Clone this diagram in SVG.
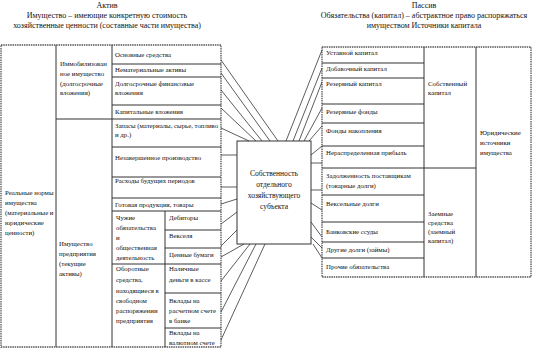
<svg xmlns="http://www.w3.org/2000/svg" width="533" height="354" viewBox="0 0 533 354">
<style>
text{font-family:"Liberation Serif","Times New Roman",serif;font-size:6.8px;fill:#111}
.h{font-size:8px;text-anchor:middle}
.c{font-size:7.5px;text-anchor:middle}
.ln{stroke:#333;stroke-width:1;fill:none}
.ob{stroke:#555;stroke-width:1.3;fill:none;stroke-dasharray:1.5 0.8}
.cn{stroke:#333;stroke-width:0.8;fill:none}
</style>
<rect width="533" height="354" fill="#fff"/>
<g id="header">
<text class="h" x="107" y="8">Актив</text>
<text class="h" x="107" y="18">Имущество – имеющие конкретную стоимость</text>
<text class="h" x="107" y="28">хозяйственные ценности (составные части имущества)</text>
<text class="h" x="424" y="8">Пассив</text>
<text class="h" x="424" y="18">Обязательства (капитал) – абстрактное право распоряжаться</text>
<text class="h" x="424" y="28">имуществом Источники капитала</text>
</g>
<g id="left-table">
<rect class="ob" x="1" y="45" width="220" height="302"/>
<path class="ln" d="M56 45V347M112 45V347M56 119H221M112 64H221M112 77H221M112 105H221M112 147H221M112 177H221M112 198H221M112 211H221M165 211V347M165 230H221M165 248H221M112 264H221M165 293H221M165 328H221"/>
</g>
<g id="n-real"><text x="5" y="195">Реальные нормы</text><text x="5" y="205">имущества</text><text x="5" y="215">(материальные и</text><text x="5" y="225">юридические</text><text x="5" y="235">ценности)</text></g>
<g id="n-immob"><text x="60" y="66">Иммобилизован</text><text x="60" y="76">ное имущество</text><text x="60" y="86">(долгосрочные</text><text x="60" y="95">вложения)</text></g>
<g id="n-tek"><text x="59" y="246">Имущество</text><text x="59" y="256">предприятия</text><text x="59" y="266">(текущие</text><text x="59" y="276">активы)</text></g>
<g id="n-os"><text x="115" y="56.5">Основные средства</text></g>
<g id="n-nma"><text x="115" y="71.5">Нематериальные активы</text></g>
<g id="n-dfv"><text x="115" y="85.5">Долгосрочные финансовые</text><text x="115" y="95">вложения</text></g>
<g id="n-kv"><text x="115" y="114">Капитальные вложения</text></g>
<g id="n-zap"><text x="115" y="128">Запасы (материалы, сырье, топливо</text><text x="115" y="137">и др.)</text></g>
<g id="n-nzp"><text x="115" y="160">Незавершенное производство</text></g>
<g id="n-rbp"><text x="115" y="183">Расходы будущих периодов</text></g>
<g id="n-gp"><text x="115" y="206.5">Готовая продукция, товары</text></g>
<g id="n-chuzh"><text x="116" y="220">Чужие</text><text x="116" y="230">обязательства</text><text x="116" y="240">и</text><text x="116" y="250">общественная</text><text x="116" y="259.5">деятельность</text></g>
<g id="n-deb"><text x="169" y="220">Дебиторы</text></g>
<g id="n-veks"><text x="169" y="238">Векселя</text></g>
<g id="n-cb"><text x="169" y="257">Ценные бумаги</text></g>
<g id="n-obor"><text x="116" y="271">Оборотные</text><text x="116" y="282">средства,</text><text x="116" y="293">находящиеся в</text><text x="116" y="303">свободном</text><text x="116" y="313">распоряжении</text><text x="116" y="323">предприятия</text></g>
<g id="n-nal"><text x="169" y="271">Наличные</text><text x="169" y="282">деньги в кассе</text></g>
<g id="n-vrs"><text x="169" y="303">Вклады на</text><text x="169" y="313">расчетном счете</text><text x="169" y="323">в банке</text></g>
<g id="n-vvs"><text x="169" y="335">Вклады на</text><text x="169" y="345">валютном счете</text></g>
<g id="center">
<rect class="ln" x="237" y="141" width="74" height="103"/>
<text class="c" x="274" y="176">Собственность</text>
<text class="c" x="274" y="187">отдельного</text>
<text class="c" x="274" y="198">хозяйствующего</text>
<text class="c" x="274" y="209">субъекта</text>
</g>
<g id="right-table">
<rect class="ob" x="322" y="47" width="209" height="230"/>
<path class="ln" d="M424 47V277M476 47V277M322 63H424M322 78H424M322 104H424M322 123H424M322 146H424M322 168H476M322 195H424M322 222H424M322 242H424M322 258H424"/>
</g>
<g id="n-ust"><text x="326" y="54.5">Уставной капитал</text></g>
<g id="n-dob"><text x="326" y="71">Добавочный капитал</text></g>
<g id="n-rk"><text x="326" y="85.5">Резервный капитал</text></g>
<g id="n-rf"><text x="326" y="113.5">Резервные фонды</text></g>
<g id="n-fn"><text x="326" y="132.5">Фонды накопления</text></g>
<g id="n-np"><text x="326" y="154.5">Нераспределенная  прибыль</text></g>
<g id="n-zad"><text x="326" y="177.5">Задолженность поставщикам</text><text x="326" y="187.5">(товарные долги)</text></g>
<g id="n-vd"><text x="326" y="205.5">Вексельные долги</text></g>
<g id="n-bs"><text x="326" y="233.5">Банковские ссуды</text></g>
<g id="n-dd"><text x="326" y="251.5">Другие долги (займы)</text></g>
<g id="n-po"><text x="326" y="268.5">Прочие обязательства</text></g>
<g id="n-sk"><text x="428" y="85.5">Собственный</text><text x="428" y="95">капитал</text></g>
<g id="n-zs"><text x="428" y="216">Заемные</text><text x="428" y="225">средства</text><text x="428" y="234">(заемный</text><text x="428" y="243">капитал)</text></g>
<g id="n-yur"><text x="480" y="135">Юридические</text><text x="480" y="145">источники</text><text x="480" y="155">имущества</text></g>
<g id="connectors">
<path class="cn" d="M221 60L278 141M221 73L270 141M221 90L262 141M221 108L256 141M221 128L249 141M221 155H237M221 187H237M221 204L237 199M221 224L237 212M221 246L237 230M221 257L244 244M221 281L250 244M221 312L256 244M221 340L265 244"/>
<path class="cn" d="M322 50L286 141M322 68L293 141M322 82L299 141M322 108L304 141M322 126L309 141M322 146L311 155M311 163H322M311 190H322M311 203L322 210M311 222L322 237M311 237L322 248M313 244L322 258"/>
</g>
</svg>
